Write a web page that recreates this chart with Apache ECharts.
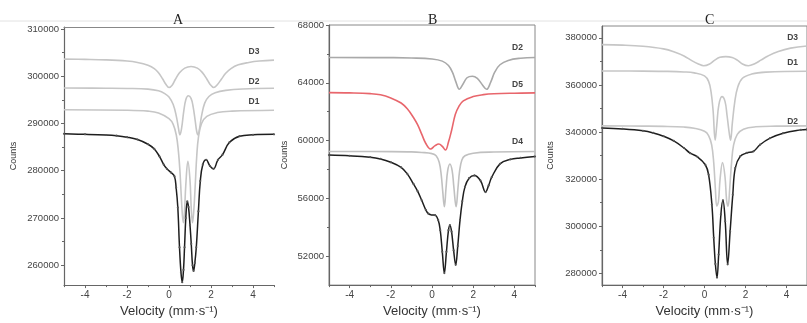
<!DOCTYPE html>
<html>
<head>
<meta charset="utf-8">
<script src="https://cdn.jsdelivr.net/npm/echarts@6/dist/echarts.min.js"></script>
<style>
  html, body { margin: 0; background: #fff; }
  #chart { width: 807px; height: 323px; }
</style>
</head>
<body>
<div id="chart"></div>
<script>
// velocity axis ticks (mm/s)
const velTicks = [-4, -2, 0, 2, 4];
const velMinor = [-5, -3, -1, 1, 3, 5];

// panel A
const aTicks = [260000, 270000, 280000, 290000, 300000, 310000];
const aMinor = [265000, 275000, 285000, 295000, 305000];
const aD3 = [[-5, 303600], [-4, 303550], [-3, 303450], [-2, 303200], [-1.5, 302900], [-1, 302300], [-0.7, 301600], [-0.5, 300700], [-0.3, 299400], [-0.15, 298300], [0, 297600], [0.15, 298100], [0.3, 299300], [0.5, 300700], [0.75, 301700], [1.05, 302050], [1.35, 301700], [1.6, 300700], [1.8, 299400], [1.95, 298300], [2.13, 297600], [2.3, 298200], [2.5, 299400], [2.7, 300600], [2.95, 301600], [3.3, 302400], [3.8, 302900], [4.3, 303200], [5, 303400]];
const aD2 = [[-5, 297500], [-3, 297450], [-2, 297400], [-1, 297250], [-0.5, 296900], [-0.2, 296300], [0, 295600], [0.2, 294000], [0.35, 291500], [0.45, 289000], [0.52, 287600], [0.6, 289000], [0.7, 292500], [0.8, 295000], [0.92, 295850], [1.05, 295300], [1.15, 293500], [1.25, 290500], [1.32, 288300], [1.38, 287600], [1.45, 288800], [1.55, 291600], [1.7, 294300], [1.9, 295700], [2.2, 296500], [2.7, 297000], [3.5, 297300], [5, 297450]];
const aD1 = [[-5, 292900], [-2, 292800], [-1, 292600], [-0.5, 292200], [0, 291000], [0.2, 289800], [0.35, 287500], [0.45, 284000], [0.52, 280000], [0.58, 275000], [0.64, 270500], [0.69, 269000], [0.74, 271500], [0.8, 277000], [0.9, 282000], [1.0, 278000], [1.06, 272000], [1.12, 269000], [1.18, 271500], [1.25, 277000], [1.32, 283000], [1.4, 287000], [1.55, 290000], [1.8, 291500], [2.3, 292300], [3, 292600], [5, 292800]];
const aTotal = [[-5, 287800], [-4, 287700], [-3, 287550], [-2.5, 287400], [-2, 287100], [-1.5, 286600], [-1, 285600], [-0.7, 284600], [-0.45, 283000], [-0.25, 281300], [-0.1, 280400], [0.1, 279600], [0.26, 278800], [0.34, 276400], [0.42, 272200], [0.5, 263800], [0.57, 258500], [0.63, 256400], [0.69, 259000], [0.74, 263800], [0.8, 270000], [0.87, 273500], [0.93, 272300], [1.0, 268500], [1.06, 264500], [1.12, 260000], [1.17, 258800], [1.23, 260500], [1.3, 263800], [1.4, 271400], [1.49, 277800], [1.61, 281300], [1.77, 282300], [1.95, 281000], [2.12, 280400], [2.33, 282300], [2.55, 283400], [2.88, 286000], [3.36, 287300], [4, 287600], [5, 287700]];

// panel B
const bTicks = [52000, 56000, 60000, 64000, 68000];
const bMinor = [54000, 58000, 62000, 66000];
const bD2 = [[-5, 65750], [-2, 65740], [-1, 65720], [0, 65650], [0.5, 65500], [0.8, 65200], [1.0, 64700], [1.15, 64100], [1.33, 63550], [1.5, 63900], [1.7, 64350], [1.96, 64450], [2.2, 64300], [2.45, 63850], [2.65, 63550], [2.85, 64050], [3.05, 64750], [3.3, 65250], [3.7, 65550], [4.3, 65700], [5, 65750]];
const bD5 = [[-5, 63320], [-4, 63300], [-3, 63250], [-2.5, 63170], [-2, 62950], [-1.5, 62600], [-1.2, 62200], [-0.9, 61600], [-0.7, 61100], [-0.5, 60450], [-0.3, 59800], [-0.07, 59420], [0.15, 59650], [0.33, 59760], [0.5, 59600], [0.65, 59350], [0.8, 59900], [0.95, 60700], [1.13, 61800], [1.3, 62350], [1.52, 62750], [2, 63050], [2.5, 63180], [3, 63240], [4, 63280], [5, 63300]];
const bD4 = [[-5, 59250], [-2, 59240], [-1, 59220], [-0.5, 59180], [0, 59100], [0.2, 58950], [0.35, 58500], [0.45, 57600], [0.52, 56500], [0.6, 55420], [0.68, 56700], [0.76, 57900], [0.87, 58380], [0.98, 57900], [1.06, 56800], [1.17, 55420], [1.26, 56700], [1.34, 57900], [1.45, 58650], [1.6, 58950], [2, 59130], [3, 59210], [5, 59250]];
const bTotal = [[-5, 59000], [-4, 58950], [-3, 58850], [-2.5, 58730], [-2, 58500], [-1.5, 58150], [-1.2, 57700], [-0.9, 57000], [-0.7, 56500], [-0.5, 55870], [-0.3, 55200], [-0.18, 54950], [0, 54850], [0.15, 54840], [0.3, 54500], [0.4, 53800], [0.5, 52300], [0.6, 50830], [0.7, 52300], [0.8, 53800], [0.87, 54150], [0.95, 53700], [1.05, 52400], [1.15, 51400], [1.25, 52700], [1.36, 54500], [1.47, 55800], [1.6, 56800], [1.8, 57400], [2.06, 57590], [2.35, 57240], [2.6, 56440], [2.75, 56900], [2.9, 57470], [3.3, 58390], [3.8, 58700], [4.3, 58800], [5, 58900]];

// panel C
const cTicks = [280000, 300000, 320000, 340000, 360000, 380000];
const cMinor = [290000, 310000, 330000, 350000, 370000];
const cD3 = [[-5, 377100], [-4, 376900], [-3, 376400], [-2, 375300], [-1.5, 374100], [-1, 372300], [-0.6, 370200], [-0.3, 368900], [-0.04, 368150], [0.25, 368900], [0.5, 370500], [0.75, 371700], [1.04, 372000], [1.35, 371600], [1.6, 370500], [1.85, 368900], [2.14, 368150], [2.45, 369000], [2.75, 370500], [3.1, 372300], [3.6, 374200], [4.2, 375600], [5, 376500]];
const cD1 = [[-5, 365900], [-3, 365850], [-2, 365750], [-1, 365500], [-0.5, 365100], [0, 363800], [0.2, 361500], [0.32, 357000], [0.42, 349000], [0.52, 336500], [0.6, 343000], [0.7, 351500], [0.85, 355000], [1.0, 353000], [1.1, 347000], [1.2, 340000], [1.27, 336500], [1.36, 344000], [1.48, 353000], [1.62, 359000], [1.85, 362800], [2.3, 364600], [3, 365400], [5, 365800]];
const cD2 = [[-5, 342600], [-3, 342500], [-2, 342400], [-1, 342100], [-0.5, 341600], [0, 340300], [0.2, 338500], [0.35, 334500], [0.45, 327000], [0.53, 316000], [0.6, 308500], [0.68, 310500], [0.76, 320000], [0.88, 327000], [1.0, 321000], [1.08, 311000], [1.15, 308500], [1.23, 316000], [1.32, 327000], [1.42, 334500], [1.6, 339000], [1.9, 341200], [2.5, 342200], [3.5, 342500], [5, 342600]];
const cTotal = [[-5, 341700], [-4, 341300], [-3, 340500], [-2.5, 339600], [-2, 338200], [-1.5, 336200], [-1, 333200], [-0.7, 331000], [-0.35, 329500], [0.04, 326100], [0.2, 321900], [0.36, 309200], [0.45, 295100], [0.53, 284000], [0.61, 278200], [0.69, 288000], [0.8, 305000], [0.9, 311000], [1.01, 302100], [1.13, 283800], [1.25, 297900], [1.38, 313400], [1.5, 324700], [1.74, 329650], [2.06, 331100], [2.39, 331800], [2.71, 334600], [3.2, 337400], [3.84, 339500], [4.7, 340900], [5, 341100]];

const panels = [
  { title: 'A', titleLeft: 168, grid: { left: 64, top: 27, width: 210, height: 259 }, yMin: 255800, yMax: 310400,
    yTicks: aTicks, yMinor: aMinor, nameGap: 46, box: false,
    comps: [
      { name: 'D3', data: aD3, color: '#c6c6c6', label: [4.05, 305200] },
      { name: 'D2', data: aD2, color: '#c6c6c6', label: [4.05, 298900] },
      { name: 'D1', data: aD1, color: '#c6c6c6', label: [4.05, 294700] }
    ], total: aTotal },
  { title: 'B', titleLeft: 423, grid: { left: 329, top: 25, width: 206, height: 262 }, yMin: 50000, yMax: 68000,
    yTicks: bTicks, yMinor: bMinor, nameGap: 40, box: true,
    comps: [
      { name: 'D2', data: bD2, color: '#a9a9a9', label: [4.15, 66450] },
      { name: 'D5', data: bD5, color: '#e8666c', label: [4.15, 63900] },
      { name: 'D4', data: bD4, color: '#c0c0c0', label: [4.15, 59950] }
    ], total: bTotal },
  { title: 'C', titleLeft: 700, grid: { left: 602, top: 26, width: 211, height: 260 }, yMin: 275000, yMax: 385000,
    yTicks: cTicks, yMinor: cMinor, nameGap: 47, box: true,
    comps: [
      { name: 'D3', data: cD3, color: '#c6c6c6', label: [4.3, 380000] },
      { name: 'D1', data: cD1, color: '#c6c6c6', label: [4.3, 369400] },
      { name: 'D2', data: cD2, color: '#c6c6c6', label: [4.3, 344400] }
    ], total: cTotal }
];

const axisColor = '#666';
const grid = [], xAxis = [], yAxis = [], series = [], title = [];

panels.forEach((p, i) => {
  grid.push(Object.assign({ show: p.box, borderColor: '#888', borderWidth: 1 }, p.grid));
  const xi = xAxis.length, yi = yAxis.length;
  xAxis.push({
    type: 'value', gridIndex: i, min: -5, max: 5, position: 'bottom',
    name: 'Velocity (mm·s⁻¹)', nameLocation: 'middle', nameGap: 19,
    nameTextStyle: { fontFamily: 'Liberation Sans', fontSize: 13, color: '#333' },
    axisLine: { show: true, onZero: false, lineStyle: { color: axisColor, width: 1.2 } },
    axisTick: { show: true, length: 3, customValues: velTicks, lineStyle: { color: axisColor } },
    axisLabel: { customValues: velTicks, margin: 5, fontFamily: 'Liberation Sans', fontSize: 10, color: '#444' },
    splitLine: { show: false }
  });
  xAxis.push({
    type: 'value', gridIndex: i, min: -5, max: 5, position: 'bottom',
    axisLine: { show: false, onZero: false }, axisLabel: { show: false }, splitLine: { show: false },
    axisTick: { show: true, length: 2, customValues: velMinor, lineStyle: { color: axisColor } }
  });
  if (!p.box) {
    xAxis.push({
      type: 'value', gridIndex: i, min: -5, max: 5, position: 'top',
      axisLine: { show: true, onZero: false, lineStyle: { color: '#888' } }, axisLabel: { show: false },
      axisTick: { show: false }, splitLine: { show: false }
    });
  }
  yAxis.push({
    type: 'value', gridIndex: i, min: p.yMin, max: p.yMax, position: 'left',
    name: 'Counts', nameLocation: 'middle', nameGap: p.nameGap,
    nameTextStyle: { fontFamily: 'Liberation Sans', fontSize: 9, color: '#333' },
    axisLine: { show: true, onZero: false, lineStyle: { color: axisColor, width: 1.2 } },
    axisTick: { show: true, length: 3, customValues: p.yTicks, lineStyle: { color: axisColor } },
    axisLabel: { customValues: p.yTicks, margin: 5, fontFamily: 'Liberation Sans', fontSize: 9.5, color: '#444',
      formatter: v => String(v) },
    splitLine: { show: false }
  });
  yAxis.push({
    type: 'value', gridIndex: i, min: p.yMin, max: p.yMax, position: 'left',
    axisLine: { show: false, onZero: false }, axisLabel: { show: false }, splitLine: { show: false },
    axisTick: { show: true, length: 2, customValues: p.yMinor, lineStyle: { color: axisColor } }
  });

  p.comps.forEach(c => {
    series.push({
      type: 'line', name: c.name, xAxisIndex: xi, yAxisIndex: yi, data: c.data,
      smooth: 0.4, symbol: 'none', lineStyle: { color: c.color, width: 1.6 },
      markPoint: {
        symbol: 'circle', symbolSize: 0,
        label: { show: true, formatter: c.name, color: '#444', fontSize: 8.5, fontWeight: 'bold', fontFamily: 'Liberation Sans' },
        data: [{ coord: c.label }]
      }
    });
  });
  series.push({
    type: 'line', name: 'total', xAxisIndex: xi, yAxisIndex: yi, data: p.total,
    smooth: 0.4, symbol: 'circle', symbolSize: 2.2, showSymbol: true,
    itemStyle: { color: '#555' }, lineStyle: { color: '#1e1e1e', width: 1.5 }
  });

  title.push({
    text: p.title, left: p.titleLeft, top: 8,
    textStyle: { fontFamily: 'Liberation Serif', fontSize: 14, fontWeight: 'normal', color: '#222' }
  });
});

const chart = echarts.init(document.getElementById('chart'));
chart.setOption({
  animation: false,
  backgroundColor: '#fff',
  title, grid, xAxis, yAxis, series,
  graphic: [{
    type: 'line', shape: { x1: 0, y1: 21, x2: 807, y2: 21 },
    style: { stroke: '#e2e2e2', lineWidth: 1 }, silent: true
  }]
});
</script>
</body>
</html>
